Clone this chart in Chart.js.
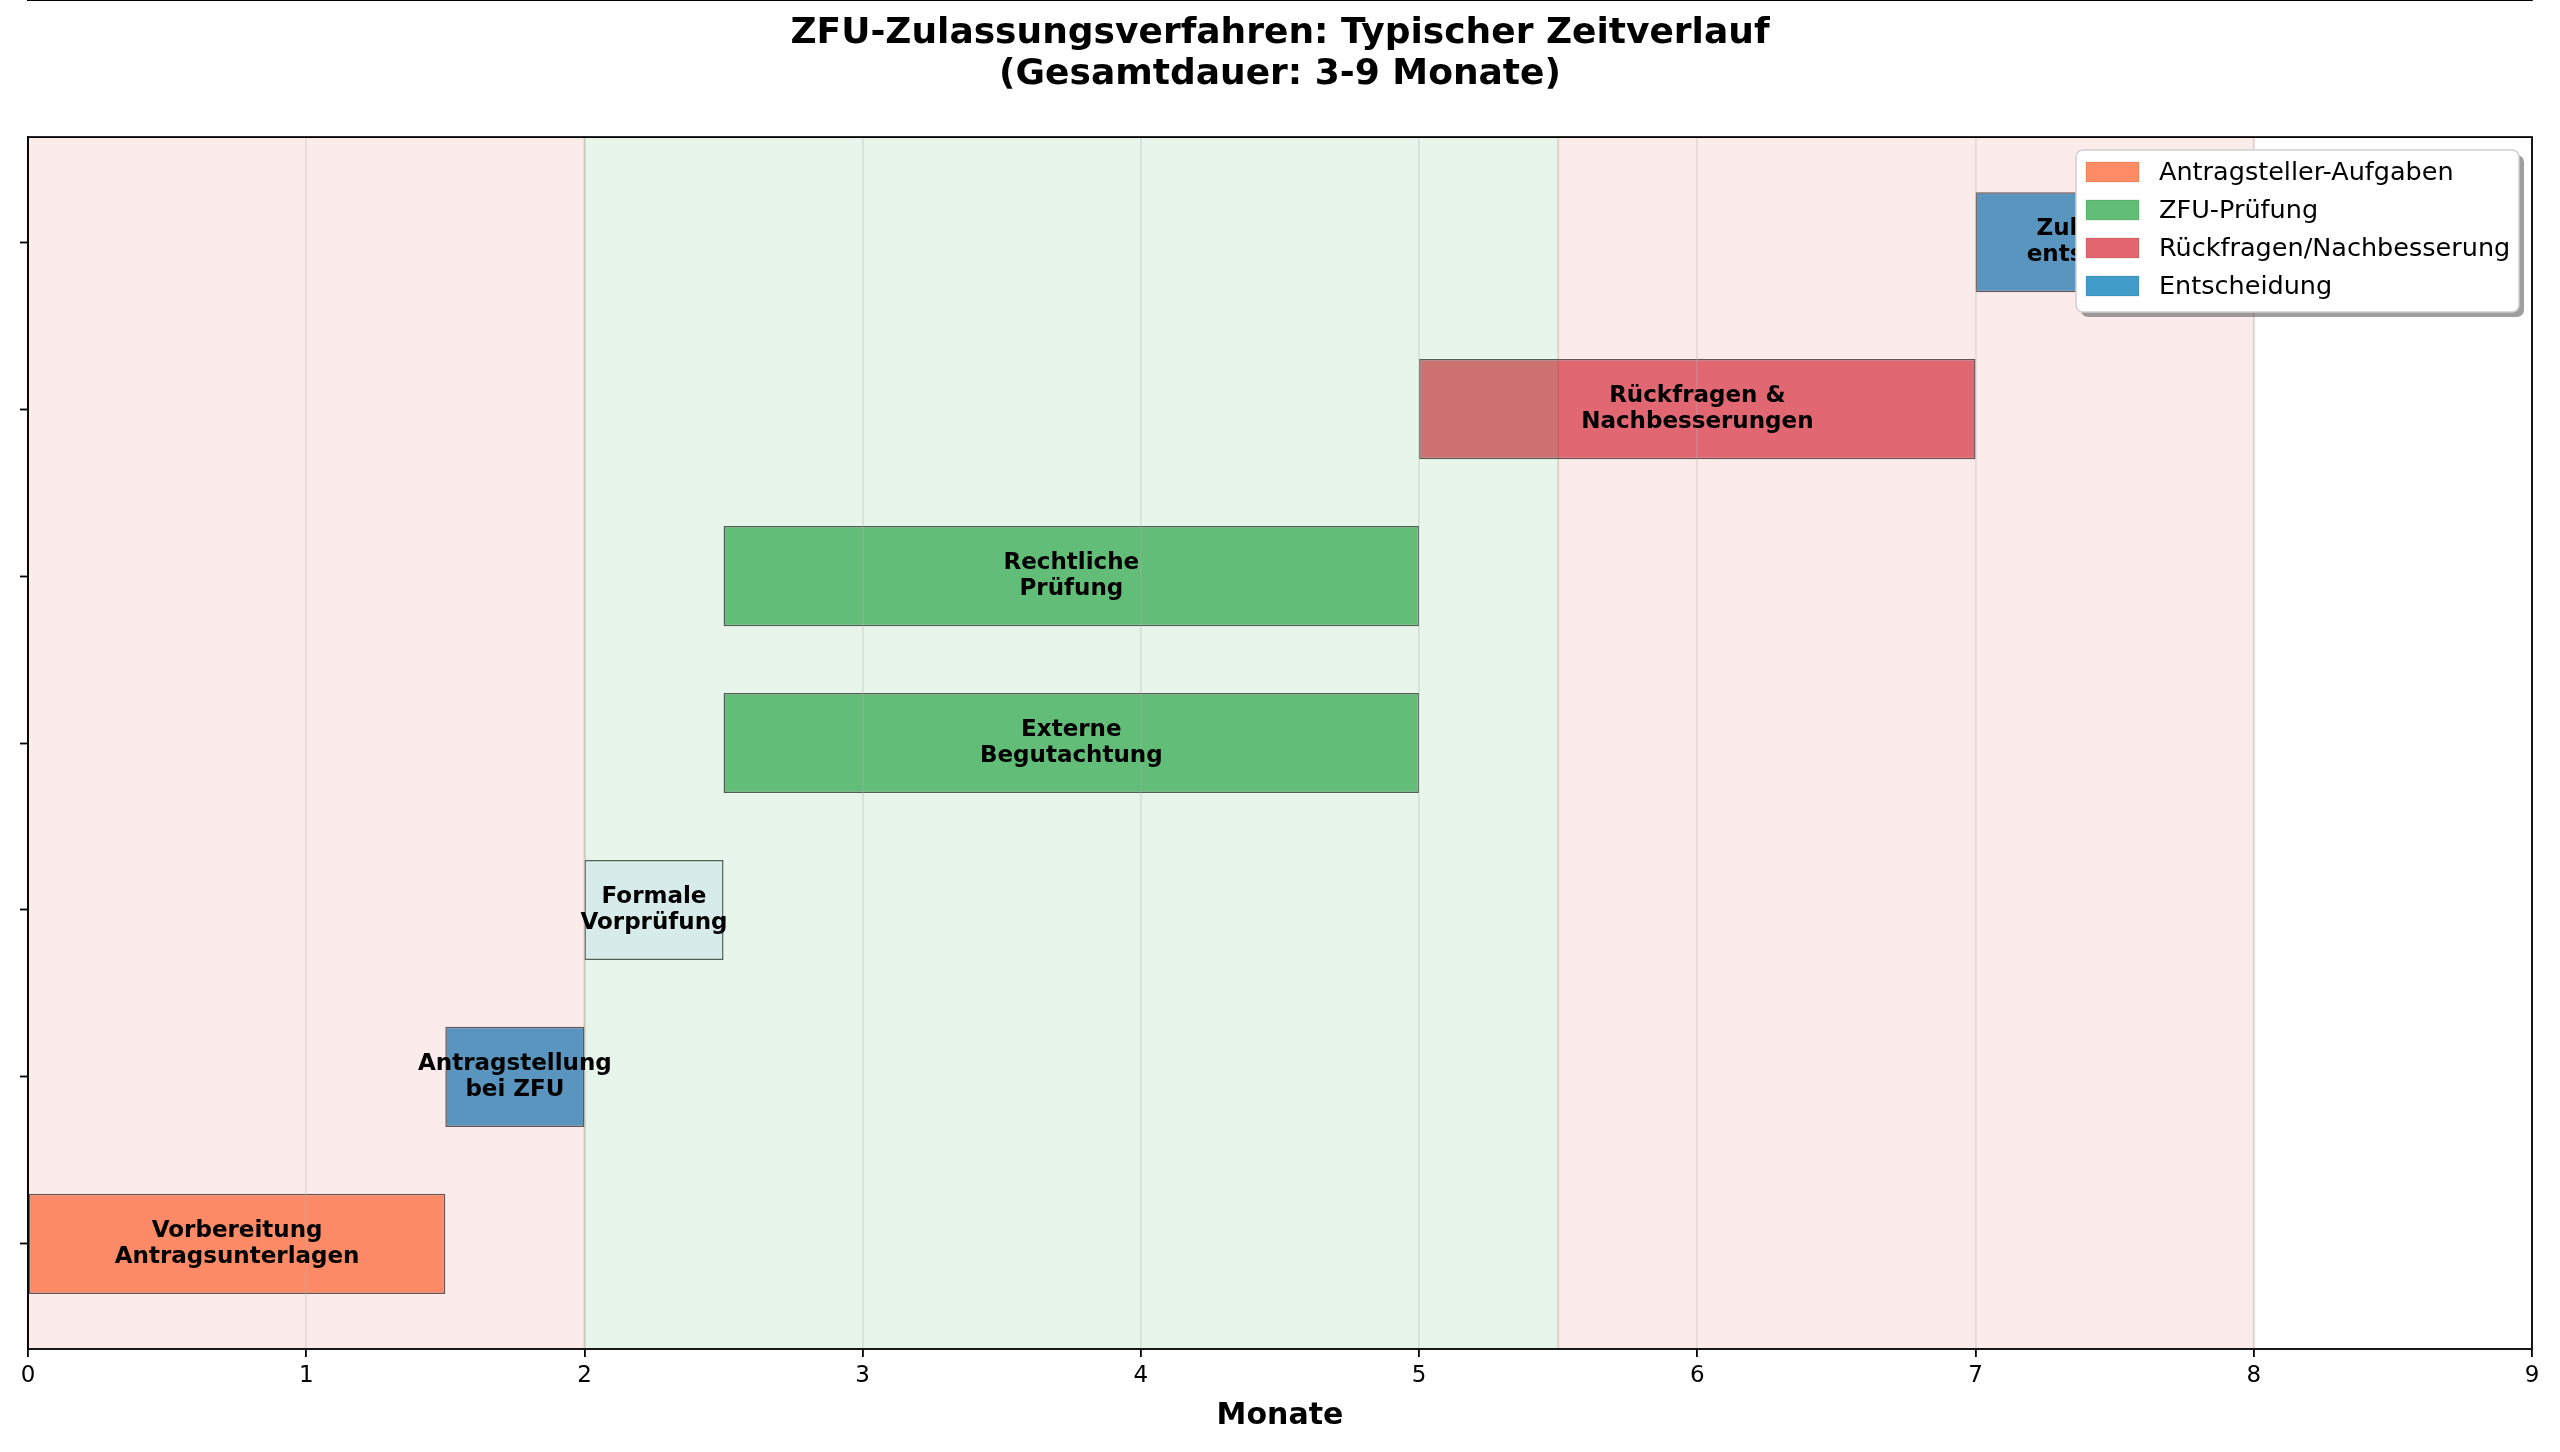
<!DOCTYPE html>
<html>
<head>
<meta charset="utf-8">
<script src="https://cdn.jsdelivr.net/npm/chart.js@4.4.1/dist/chart.umd.min.js"></script>
<style>
  html, body { margin: 0; padding: 0; background: #fff; overflow: hidden; }
  canvas { display: block; }
</style>
</head>
<body>
<canvas id="timelineChart" width="2560" height="1452"></canvas>
<script>
// Phases of the approval process (bottom to top)
const phaseLabels = [
    'Vorbereitung\nAntragsunterlagen',
    'Antragstellung\nbei ZFU',
    'Formale\nVorprüfung',
    'Externe\nBegutachtung',
    'Rechtliche\nPrüfung',
    'Rückfragen &\nNachbesserungen',
    'Zulassungs-\nentscheidung'
];
const phaseStarts = [0, 1.5, 2.0, 2.5, 2.5, 5.0, 7.0];
const phaseDurations = [1.5, 0.5, 0.5, 2.5, 2.5, 2.0, 1.0];
const phaseColors = [
    'rgb(255,148,108)',
    'rgb(74,160,205)',
    'rgb(236,244,255)',
    'rgb(105,193,126)',
    'rgb(105,193,126)',
    'rgb(225,108,122)',
    'rgb(74,160,205)'
];

// Background phases
const spanStarts = [0, 2.0, 5.5];
const spanEnds = [2.0, 5.5, 8.0];
const spanColors = ['rgba(225,60,60,0.1)', 'rgba(25,155,55,0.1)', 'rgba(225,60,60,0.1)'];

// Legend entries
const legendLabels = ['Antragsteller-Aufgaben', 'ZFU-Prüfung', 'Rückfragen/Nachbesserung', 'Entscheidung'];
const legendColors = ['rgb(255,140,100)', 'rgb(98,190,118)', 'rgb(226,102,112)', 'rgb(66,156,202)'];

// Axis ticks
const monthTicks = [0, 1, 2, 3, 4, 5, 6, 7, 8, 9];
const rowTicks = [0, 1, 2, 3, 4, 5, 6];

const FONT = "'DejaVu Sans', sans-serif";

// White page background
const whiteBackground = {
    id: 'whiteBackground',
    beforeDraw(chart) {
        const ctx = chart.ctx;
        ctx.save();
        ctx.fillStyle = '#ffffff';
        ctx.fillRect(0, 0, chart.width, chart.height);
        ctx.restore();
    }
};

// Shaded phase spans drawn above the bars (like axvspan)
const phaseSpans = {
    id: 'phaseSpans',
    afterDatasetsDraw(chart) {
        const ctx = chart.ctx;
        const x = chart.scales.x;
        const area = chart.chartArea;
        ctx.save();
        spanStarts.forEach((s, i) => {
            const x1 = x.getPixelForValue(s);
            const x2 = x.getPixelForValue(spanEnds[i]);
            ctx.fillStyle = spanColors[i];
            ctx.fillRect(x1, area.top, x2 - x1, area.bottom - area.top);
            ctx.strokeStyle = spanColors[i];
            ctx.lineWidth = 2;
            ctx.strokeRect(x1, area.top, x2 - x1, area.bottom - area.top);
        });
        ctx.restore();
    }
};

// Bar labels, frame and legend
const overlays = {
    id: 'overlays',
    afterDraw(chart) {
        const ctx = chart.ctx;
        const area = chart.chartArea;
        const meta = chart.getDatasetMeta(0);

        ctx.save();
        // labels inside bars
        ctx.font = 'bold 23px ' + FONT;
        ctx.fillStyle = '#000';
        ctx.textAlign = 'center';
        ctx.textBaseline = 'middle';
        meta.data.forEach((bar, i) => {
            const cx = (bar.x + bar.base) / 2;
            const lines = phaseLabels[i].split('\n');
            const lh = 26.5;
            lines.forEach((line, j) => {
                ctx.fillText(line, cx, bar.y + (j - (lines.length - 1) / 2) * lh);
            });
        });

        // frame
        ctx.strokeStyle = '#000';
        ctx.lineWidth = 1.8;
        ctx.strokeRect(area.left, area.top, area.right - area.left, area.bottom - area.top);

        // legend box
        const bx = 2076, by = 150, bw = 443, bh = 162, r = 7;
        const roundRect = (x0, y0) => {
            ctx.beginPath();
            ctx.moveTo(x0 + r, y0);
            ctx.arcTo(x0 + bw, y0, x0 + bw, y0 + bh, r);
            ctx.arcTo(x0 + bw, y0 + bh, x0, y0 + bh, r);
            ctx.arcTo(x0, y0 + bh, x0, y0, r);
            ctx.arcTo(x0, y0, x0 + bw, y0, r);
            ctx.closePath();
        };
        roundRect(bx + 5, by + 5);
        ctx.fillStyle = 'rgba(80,80,80,0.55)';
        ctx.fill();
        roundRect(bx, by);
        ctx.fillStyle = '#ffffff';
        ctx.fill();
        ctx.strokeStyle = '#d0d0d0';
        ctx.lineWidth = 1.5;
        ctx.stroke();

        ctx.font = '25.5px ' + FONT;
        ctx.textAlign = 'left';
        ctx.textBaseline = 'middle';
        legendLabels.forEach((label, i) => {
            const cy = 172 + i * 38;
            ctx.fillStyle = legendColors[i];
            ctx.fillRect(2086, cy - 10, 53, 20);
            ctx.strokeStyle = 'rgba(0,0,0,0.08)';
            ctx.lineWidth = 1.5;
            ctx.strokeRect(2086, cy - 10, 53, 20);
            ctx.fillStyle = '#000';
            ctx.fillText(label, 2159, cy + 1);
        });
        ctx.restore();
    }
};

const ctx = document.getElementById('timelineChart').getContext('2d');
new Chart(ctx, {
    type: 'bar',
    data: {
        datasets: [{
            data: phaseStarts.map((s, i) => ({ x: [s, s + phaseDurations[i]], y: i })),
            backgroundColor: phaseColors,
            borderColor: 'rgba(80,80,80,0.95)',
            borderWidth: 1.5,
            borderSkipped: false,
            barPercentage: 0.6,
            categoryPercentage: 1.0
        }]
    },
    options: {
        indexAxis: 'y',
        responsive: false,
        animation: false,
        devicePixelRatio: 1,
        layout: { padding: 0 },
        plugins: {
            legend: { display: false },
            tooltip: { enabled: false },
            title: {
                display: true,
                text: ['ZFU-Zulassungsverfahren: Typischer Zeitverlauf', '(Gesamtdauer: 3-9 Monate)'],
                color: '#000',
                font: { family: FONT, size: 36, weight: 'bold', lineHeight: 1.14 },
                padding: { top: 13.5, bottom: 41.5 }
            }
        },
        scales: {
            x: {
                type: 'linear',
                min: 0,
                max: 9,
                afterBuildTicks: (scale) => { scale.ticks = monthTicks.map(v => ({ value: v })); },
                afterFit: (scale) => { scale.height = 103; },
                ticks: {
                    color: '#000',
                    font: { family: FONT, size: 23 },
                    padding: 5,
                    maxRotation: 0
                },
                grid: {
                    z: 1,
                    color: 'rgba(176,176,176,0.3)',
                    lineWidth: 1.8,
                    tickColor: '#000',
                    tickWidth: 1.8,
                    tickLength: 8
                },
                border: { display: true, color: '#000', width: 1.8 },
                title: {
                    display: true,
                    text: 'Monate',
                    color: '#000',
                    font: { family: FONT, size: 30, weight: 'bold' },
                    padding: { top: 0, bottom: 18 }
                }
            },
            y: {
                type: 'linear',
                min: -0.63,
                max: 6.63,
                offset: false,
                afterBuildTicks: (scale) => { scale.ticks = rowTicks.map(v => ({ value: v })); },
                afterFit: (scale) => { scale.width = 28; },
                ticks: { callback: () => '', padding: 0 },
                grid: {
                    offset: false,
                    drawOnChartArea: false,
                    tickColor: '#000',
                    tickWidth: 1.8,
                    tickLength: 8
                },
                border: { display: true, color: '#000', width: 1.8 }
            },
            yRight: {
                type: 'linear',
                position: 'right',
                display: true,
                afterFit: (scale) => { scale.width = 28; },
                ticks: { display: false },
                grid: { display: false },
                border: { display: false }
            }
        }
    },
    plugins: [whiteBackground, phaseSpans, overlays]
});
</script>
</body>
</html>
